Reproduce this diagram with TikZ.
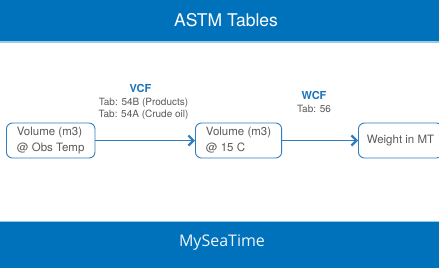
\documentclass[tikz,border=0pt]{standalone}
\usepackage{fontspec}
\setmainfont{TeX Gyre Heros}
\newfontfamily\osans{Open Sans}
\usetikzlibrary{arrows.meta}
\definecolor{barblue}{HTML}{0072BC}
\definecolor{lineblue}{HTML}{9CC8EA}
\definecolor{boxblue}{HTML}{2F7DC0}
\definecolor{txtgray}{HTML}{5A5A5A}
\definecolor{lblblue}{HTML}{1A73BA}
\tikzset{
  x=1pt,y=-1pt,
  vbox/.style={draw=boxblue,line width=0.9pt,rounded corners=6pt,fill=white,
    minimum height=35pt,text=txtgray,font=\fontsize{11.5}{16}\selectfont,align=left,inner xsep=10.5pt},
  flow/.style={draw=boxblue,line width=1.3pt,-{Straight Barb[length=5pt,width=10pt,line width=2.2pt]}},
  head/.style={font=\bfseries\fontsize{11}{12}\selectfont,text=lblblue},
  sub/.style={font=\fontsize{10}{12}\selectfont,text=txtgray,align=center},
}
\begin{document}
\begin{tikzpicture}
\useasboundingbox (0,0) rectangle (439,268);
\fill[white] (0,0) rectangle (439,268);
\fill[barblue] (0,0) rectangle (439,41);
\fill[lineblue] (0,41) rectangle (439,42.5);
\fill[barblue] (0,221) rectangle (439,268);
\draw[lineblue,line width=0.8pt] (0,221) -- (439,221);
\node[text=white,font=\fontsize{17.5}{20}\selectfont] (title) at (226,20.5) {ASTM Tables};
\node[text=white!85!lineblue,font=\osans\fontsize{16}{18}\selectfont] (foot) at (222,242.5) {MySeaTime};
\node[vbox,minimum width=88pt,anchor=west] (b1) at (6,140.5) {Volume (m3)\\@ Obs Temp};
\node[vbox,minimum width=84pt,anchor=west] (b2) at (195,140.5) {Volume (m3)\\@ 15 C};
\node[vbox,minimum width=84pt,anchor=west,inner xsep=6pt] (b3) at (358,140.5) {Weight in MT};
\draw[flow] (b1.east) -- (b2.west);
\draw[flow] (b2.east) -- (b3.west);
\node[head] (vcf) at (140.5,88.5) {VCF};
\node[sub] (vcft) at (143.5,109) {Tab: 54B (Products)\\Tab: 54A (Crude oil)};
\node[head] (wcf) at (314,95.5) {WCF};
\node[sub] (wcft) at (314,108.5) {Tab: 56};
\end{tikzpicture}
\end{document}
